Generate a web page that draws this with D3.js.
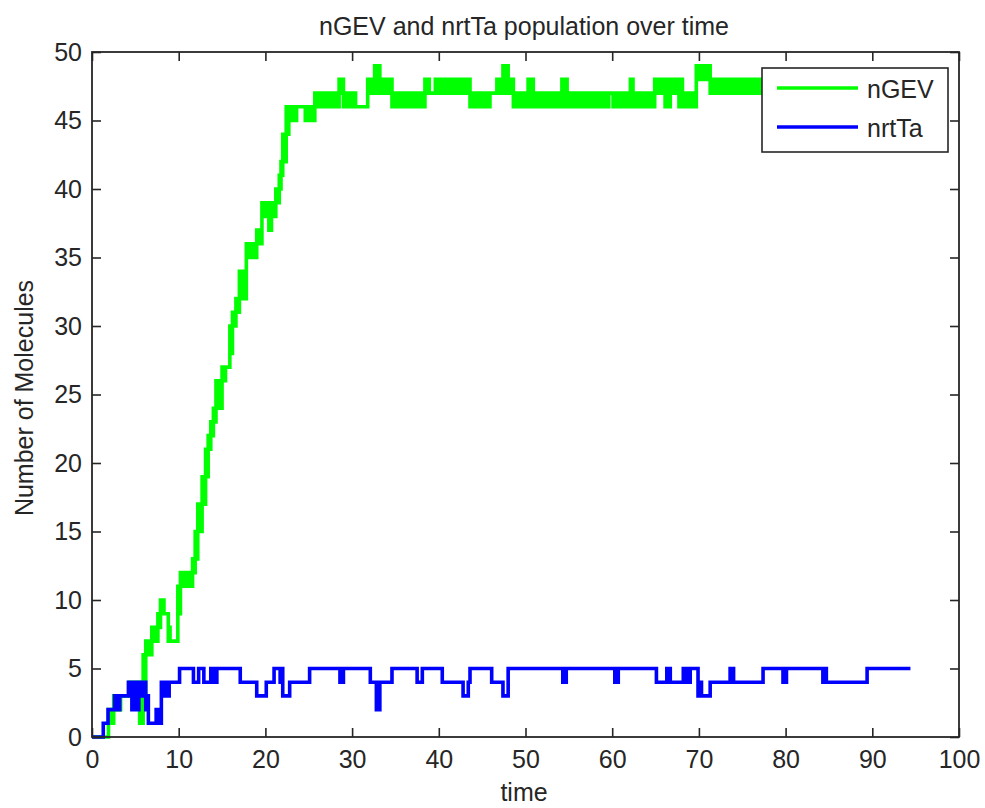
<!DOCTYPE html>
<html>
<head>
<meta charset="utf-8">
<script src="https://cdn.jsdelivr.net/npm/d3@7"></script>
<style>
  body { margin: 0; background: #fff; }
  svg { display: block; }
  text { font-family: "Liberation Sans", Arial, Helvetica, sans-serif; fill: #262626; }
</style>
</head>
<body>
<svg id="chart" width="985" height="808"></svg>
<script>
// Axis ticks
const xTicks = [0, 10, 20, 30, 40, 50, 60, 70, 80, 90, 100];
const yTicks = [0, 5, 10, 15, 20, 25, 30, 35, 40, 45, 50];

const seriesNames = ["nGEV", "nrtTa"];
const seriesColors = ["#00ff00", "#0000ff"];

// Molecule counts per time interval: [start time, min count, max count].
// Where the count flickers between two levels the interval spans both.
const nGEV = [
  [0, 0, 0], [1.9, 1, 2], [2.5, 2, 3], [3.3, 3, 3], [4.3, 3, 4],
  [5.5, 1, 3], [5.9, 3, 6], [6.2, 6, 7], [6.9, 7, 8], [7.6, 8, 9],
  [7.9, 9, 10], [8.3, 9, 9], [8.8, 7, 8], [9.0, 7, 7], [9.9, 9, 11],
  [10.2, 11, 12], [11.6, 12, 13], [11.9, 13, 15], [12.2, 15, 17], [12.7, 17, 19],
  [13.1, 19, 21], [13.4, 21, 22], [13.7, 22, 23], [14.0, 23, 24], [14.3, 24, 26],
  [15.0, 26, 27], [15.4, 27, 27], [15.9, 28, 30], [16.2, 30, 31], [16.6, 31, 32],
  [17.0, 32, 34], [17.8, 35, 36], [19.0, 36, 37], [19.6, 38, 39], [20.4, 37, 38],
  [20.7, 38, 39], [21.2, 39, 40], [21.6, 40, 41], [21.8, 41, 42], [22.0, 42, 44],
  [22.4, 44, 46], [22.7, 45, 46], [23.6, 46, 46], [24.6, 45, 46], [25.3, 45, 45],
  [25.7, 46, 47], [28.5, 47, 48], [29.0, 46, 47], [30.4, 46, 46], [31.8, 47, 48],
  [32.6, 47, 49], [33.2, 47, 48], [34.6, 46, 47], [37.5, 46, 46], [37.9, 46, 47],
  [38.4, 47, 48], [38.9, 47, 47], [39.6, 47, 48], [43.6, 46, 47], [45.9, 47, 47],
  [46.7, 47, 48], [47.4, 47, 49], [48.0, 47, 48], [48.6, 46, 47], [50.3, 46, 48],
  [50.9, 46, 47], [54.2, 46, 48], [54.8, 46, 47], [59.6, 47, 47], [60.1, 46, 47],
  [62.1, 46, 48], [62.4, 46, 47], [64.9, 47, 48], [66.1, 46, 48], [66.7, 47, 48],
  [67.7, 46, 48], [68.1, 46, 47], [69.7, 48, 49], [71.3, 47, 48]
];

const nrtTa = [
  [0, 0, 0], [1.3, 1, 1], [1.85, 2, 2], [2.6, 2, 3], [3.2, 3, 3],
  [4.2, 3, 4], [4.6, 2, 4], [5.4, 3, 4], [6.2, 2, 3], [6.5, 1, 1],
  [7.4, 1, 2], [7.8, 1, 1], [8.0, 3, 4], [8.9, 4, 4], [10.1, 5, 5],
  [11.7, 4, 4], [12.3, 5, 5], [12.9, 4, 4], [13.7, 5, 5], [14.1, 4, 5],
  [14.4, 5, 5], [17.1, 4, 4], [19.0, 3, 3], [20.1, 4, 4], [21.0, 5, 5],
  [21.7, 4, 5], [22.0, 3, 3], [22.8, 4, 4], [25.1, 5, 5], [28.6, 4, 4],
  [29.0, 5, 5], [32.1, 4, 4], [32.8, 2, 2], [33.2, 4, 4], [34.6, 5, 5],
  [37.5, 4, 4], [38.1, 5, 5], [40.4, 4, 4], [42.8, 3, 3], [43.4, 4, 4],
  [43.6, 5, 5], [46.1, 4, 4], [47.4, 3, 3], [48.0, 5, 5], [54.3, 4, 4],
  [54.7, 5, 5], [60.3, 4, 4], [60.7, 5, 5], [65.1, 4, 4], [66.3, 5, 5],
  [66.7, 4, 4], [68.2, 5, 5], [68.6, 4, 4], [69.0, 5, 5], [69.9, 3, 4],
  [70.3, 3, 3], [71.3, 4, 4], [73.6, 5, 5], [74.0, 4, 4], [77.4, 5, 5],
  [79.7, 4, 4], [80.1, 5, 5], [84.3, 4, 5], [84.7, 4, 4], [89.4, 5, 5]
];

const endTime = 94.4;

const svg = d3.select("#chart");
const x = d3.scaleLinear().domain([0, 100]).range([92, 959]);
const y = d3.scaleLinear().domain([0, 50]).range([737, 52]);
const FONT = 25;
const AXIS = "#262626";

// Title and axis labels
svg.append("text")
  .attr("x", 524).attr("y", 35)
  .attr("text-anchor", "middle")
  .style("font-size", FONT + "px")
  .text("nGEV and nrtTa population over time");

svg.append("text")
  .attr("x", 524).attr("y", 801)
  .attr("text-anchor", "middle")
  .style("font-size", FONT + "px")
  .text("time");

svg.append("text")
  .attr("transform", "translate(33,398) rotate(-90)")
  .attr("text-anchor", "middle")
  .style("font-size", FONT + "px")
  .text("Number of Molecules");

// Data traces, drawn as stepped min/max bands
const band = d3.area()
  .curve(d3.curveStepAfter)
  .x(d => x(d[0]))
  .y0(d => y(d[1]))
  .y1(d => y(d[2]));

function withEnd(rows) {
  const last = rows[rows.length - 1];
  return rows.concat([[endTime, last[1], last[2]]]);
}

[nGEV, nrtTa].forEach((rows, i) => {
  svg.append("path")
    .datum(withEnd(rows))
    .attr("d", band)
    .attr("fill", seriesColors[i])
    .attr("stroke", seriesColors[i])
    .attr("stroke-width", 3.6)
    .attr("stroke-linejoin", "miter");
});

// Axes with inward ticks on all four sides
const tickLen = 9;
function styleAxis(g) {
  g.select(".domain").remove();
  g.selectAll(".tick line").attr("stroke", AXIS).attr("stroke-width", 1.6);
  g.selectAll(".tick text").style("font-size", FONT + "px").attr("fill", AXIS)
    .style("font-family", '"Liberation Sans", Arial, Helvetica, sans-serif');
}

svg.append("g").attr("transform", "translate(0,737)")
  .call(d3.axisBottom(x).tickValues(xTicks).tickSizeInner(-tickLen).tickSizeOuter(0).tickPadding(13))
  .call(styleAxis);
svg.append("g").attr("transform", "translate(0,52)")
  .call(d3.axisTop(x).tickValues(xTicks).tickSizeInner(-tickLen).tickSizeOuter(0).tickFormat(""))
  .call(styleAxis);
svg.append("g").attr("transform", "translate(92,0)")
  .call(d3.axisLeft(y).tickValues(yTicks).tickSizeInner(-tickLen).tickSizeOuter(0).tickPadding(10))
  .call(styleAxis);
svg.append("g").attr("transform", "translate(959,0)")
  .call(d3.axisRight(y).tickValues(yTicks).tickSizeInner(-tickLen).tickSizeOuter(0).tickFormat(""))
  .call(styleAxis);

svg.append("rect")
  .attr("x", x(0)).attr("y", y(50))
  .attr("width", x(100) - x(0)).attr("height", y(0) - y(50))
  .attr("fill", "none").attr("stroke", AXIS).attr("stroke-width", 1.8);

// Legend
const legend = svg.append("g").attr("transform", "translate(762,68)");
legend.append("rect")
  .attr("width", 186).attr("height", 84)
  .attr("fill", "#fff").attr("stroke", AXIS).attr("stroke-width", 1.6);
seriesNames.forEach((name, i) => {
  const ly = 20 + i * 39;
  legend.append("line")
    .attr("x1", 15).attr("x2", 96).attr("y1", ly).attr("y2", ly)
    .attr("stroke", seriesColors[i]).attr("stroke-width", 3.6);
  legend.append("text")
    .attr("x", 105).attr("y", ly + 10)
    .style("font-size", FONT + "px")
    .text(name);
});
</script>
</body>
</html>
